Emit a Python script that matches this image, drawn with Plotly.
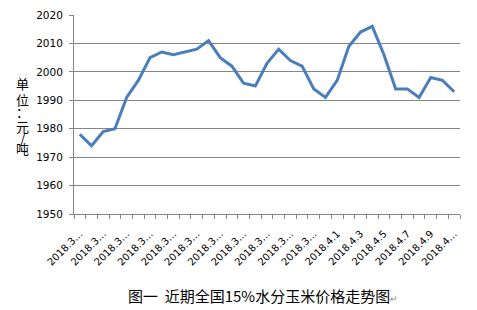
import plotly.graph_objects as go

dates = [f"2018.3.{d}" for d in range(10, 32)] + [f"2018.4.{d}" for d in range(1, 12)]
prices = [1978, 1974, 1979, 1980, 1991, 1997, 2005, 2007, 2006, 2007, 2008, 2011,
          2005, 2002, 1996, 1995, 2003, 2008, 2004, 2002, 1994, 1991, 1997, 2009,
          2014, 2016, 2006, 1994, 1994, 1991, 1998, 1997, 1993]
tick_labels = ["2018.3…", "", "2018.3…", "", "2018.3…", "", "2018.3…", "", "2018.3…", "",
               "2018.3…", "", "2018.3…", "", "2018.3…", "", "2018.3…", "", "2018.3…", "",
               "2018.3…", "", "2018.4.1", "", "2018.4.3", "", "2018.4.5", "", "2018.4.7", "",
               "2018.4.9", "", "2018.4…"]
y_title_chars = ["单", "位", "：", "元", "/", "吨"]
y_title_pos = [80, 96, 108, 124, 136, 147]  # pixel centres from top
caption = "图一  近期全国15%水分玉米价格走势图"

W, H = 477, 310
ML, MR, MT, MB = 74, 17, 9, 96
PW, PH = W - ML - MR, H - MT - MB

grid = "#868686"
fig = go.Figure()
fig.add_trace(go.Scatter(x=dates, y=prices, mode="lines",
                         line=dict(color="#4A7EBB", width=3), hoverinfo="skip"))

fig.update_layout(
    width=W, height=H,
    margin=dict(l=ML, r=MR, t=MT, b=MB),
    paper_bgcolor="white", plot_bgcolor="white",
    showlegend=False,
    font=dict(family="DejaVu Sans", color="#000000"),
)
fig.update_xaxes(
    type="category", tickmode="array", tickvals=dates, ticktext=tick_labels,
    tickson="boundaries", ticks="outside", ticklen=4, tickcolor=grid,
    tickangle=-45, tickfont=dict(size=10, family="DejaVu Sans", color="#000"),
    ticklabelstandoff=9,
    showline=True, linecolor=grid, linewidth=1,
    showgrid=False, zeroline=False, range=[-0.5, len(dates) - 0.5],
)
fig.update_yaxes(
    range=[1950, 2020], dtick=10, tick0=1950,
    ticks="outside", ticklen=4, tickcolor=grid,
    tickfont=dict(size=10.5, family="DejaVu Sans", color="#000"),
    showline=True, linecolor=grid, linewidth=1,
    showgrid=True, gridcolor=grid, gridwidth=1, zeroline=False,
    ticklabelstandoff=4,
)
for ch, py in zip(y_title_chars, y_title_pos):
    fig.add_annotation(
        text=ch, xref="paper", yref="paper",
        x=(22 - ML) / PW, y=(MT + PH - py) / PH, showarrow=False,
        xanchor="center", yanchor="middle",
        font=dict(family="Noto Sans CJK SC", size=13, color="#000"),
    )
fig.add_annotation(
    text=caption + "<span style='font-size:9px;color:#888'>↵</span>",
    xref="paper", yref="paper",
    x=(263 - ML) / PW, y=(MT + PH - 298) / PH, showarrow=False,
    xanchor="center", yanchor="middle",
    font=dict(family="Noto Sans CJK SC", size=15, color="#000"),
)
fig.write_html("out.html")
